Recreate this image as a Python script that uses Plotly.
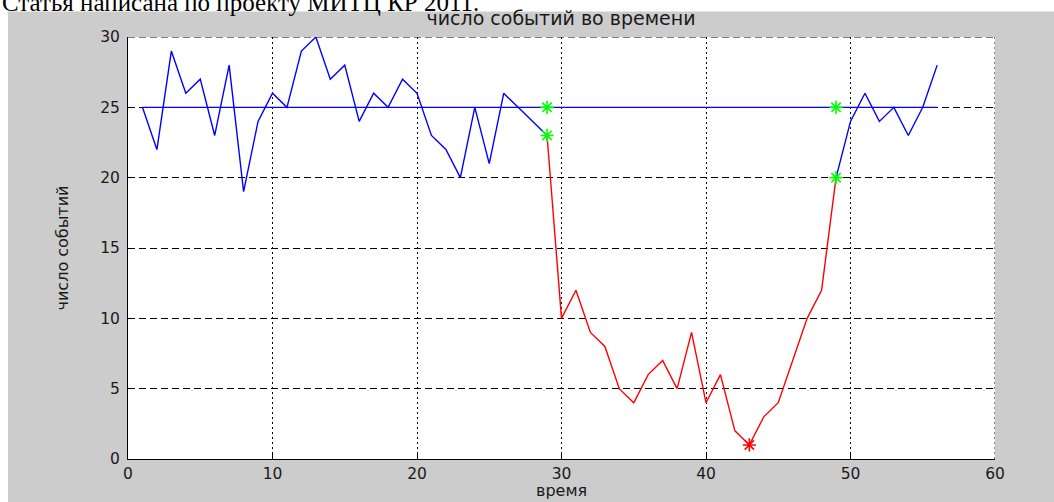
import plotly.graph_objects as go

# Event counts over time: normal segment before the drop, the dip, and recovery
t_before = list(range(1, 30))
n_before = [25, 22, 29, 26, 27, 23, 28, 19, 24, 26, 25, 29, 30, 27, 28,
            24, 26, 25, 27, 26, 23, 22, 20, 25, 21, 26, 25, 24, 23]

t_dip = list(range(29, 50))
n_dip = [23, 10, 12, 9, 8, 5, 4, 6, 7, 5, 9, 4, 6, 2, 1, 3, 4, 7, 10, 12, 20]

t_after = list(range(49, 57))
n_after = [20, 24, 26, 24, 25, 23, 25, 28]

# Reference level
level_t = [1, 56]
level_n = [25, 25]

# Marked change points and the minimum
mark_t = [29, 29, 49, 49]
mark_n = [25, 23, 25, 20]
min_t = [43]
min_n = [1]

x_ticks = [0, 10, 20, 30, 40, 50, 60]
y_ticks = [0, 5, 10, 15, 20, 25, 30]

W, H = 1054, 502
L, R, T, B = 128, 59, 37, 43
ph = H - T - B
pw = W - L - R

tick_font = dict(family="DejaVu Sans", size=15.5, color="#1a1a1a")
x_dot = "2px,3px"
y_dash = "7px,4px"

fig = go.Figure()
fig.add_trace(go.Scatter(x=level_t, y=level_n, mode="lines",
                         line=dict(color="#0000ff", width=1.4)))
fig.add_trace(go.Scatter(x=t_before, y=n_before, mode="lines",
                         line=dict(color="#0000ff", width=1.4)))
fig.add_trace(go.Scatter(x=t_dip, y=n_dip, mode="lines",
                         line=dict(color="#ff0000", width=1.4)))
fig.add_trace(go.Scatter(x=t_after, y=n_after, mode="lines",
                         line=dict(color="#0000ff", width=1.4)))
fig.add_trace(go.Scatter(x=mark_t, y=mark_n, mode="markers",
                         marker=dict(symbol="asterisk-open", size=11, color="#00ff00",
                                     line=dict(color="#00ff00", width=1.6))))
fig.add_trace(go.Scatter(x=min_t, y=min_n, mode="markers",
                         marker=dict(symbol="asterisk-open", size=11, color="#ff0000",
                                     line=dict(color="#ff0000", width=1.6))))

fig.update_layout(
    width=W, height=H,
    margin=dict(l=L, r=R, t=T, b=B, pad=0),
    paper_bgcolor="#cccccc",
    plot_bgcolor="#ffffff",
    showlegend=False,
    title=dict(text="число событий во времени", x=561 / W, xanchor="center",
               y=1 - 18 / H, yanchor="middle",
               font=dict(family="DejaVu Sans", size=19, color="#1a1a1a")),
    xaxis=dict(range=[0, 60], tickvals=x_ticks, ticktext=[str(v) for v in x_ticks],
               showgrid=True, gridcolor="#000000", gridwidth=1, griddash=x_dot,
               zeroline=False, showline=True, linecolor="#000000", linewidth=1,
               ticks="inside", ticklen=5, tickcolor="#000000", tickfont=tick_font,
               automargin=False, fixedrange=True),
    yaxis=dict(range=[0, 30], tickvals=y_ticks, ticktext=[str(v) for v in y_ticks],
               showgrid=True, gridcolor="#000000", gridwidth=1, griddash=y_dash,
               zeroline=False, showline=True, linecolor="#000000", linewidth=1,
               ticks="inside", ticklen=5, tickcolor="#000000", tickfont=tick_font,
               ticklabelstandoff=4,
               title=dict(text="число событий", standoff=27,
                          font=dict(family="DejaVu Sans", size=16, color="#1a1a1a")),
               automargin=False, fixedrange=True),
    shapes=[
        # white page strip above and left of the figure window
        dict(type="rect", xref="paper", yref="paper", layer="below",
             x0=-0.3, x1=1.3, y0=(ph + T - 11.5) / ph, y1=1.3,
             fillcolor="#ffffff", line=dict(width=0)),
        dict(type="rect", xref="paper", yref="paper", layer="below",
             x0=-0.3, x1=(8 - L) / pw, y0=-0.3, y1=1.3,
             fillcolor="#ffffff", line=dict(width=0)),
        # grid lines on the far edges of the axes box
        dict(type="line", xref="x", yref="y", layer="below",
             x0=0, x1=60, y0=30, y1=30,
             line=dict(color="#000000", width=1, dash=y_dash)),
        dict(type="line", xref="x", yref="y", layer="below",
             x0=60, x1=60, y0=0, y1=30,
             line=dict(color="#000000", width=1, dash=x_dot)),
    ],
    annotations=[
        dict(text="Статья написана по проекту МИТЦ КР 2011.", xref="paper", yref="paper",
             x=(0 - L) / pw, xanchor="left", y=(ph + T - 2) / ph, yanchor="middle",
             showarrow=False,
             font=dict(family="Liberation Serif", size=25, color="#000000")),
        # x-axis title
        dict(text="время", xref="paper", yref="paper",
             x=0.5, xanchor="center", y=-(490 - T - ph) / ph, yanchor="middle",
             showarrow=False, borderpad=0,
             font=dict(family="DejaVu Sans", size=16, color="#1a1a1a")),
    ],
)

fig.write_html("out.html")
